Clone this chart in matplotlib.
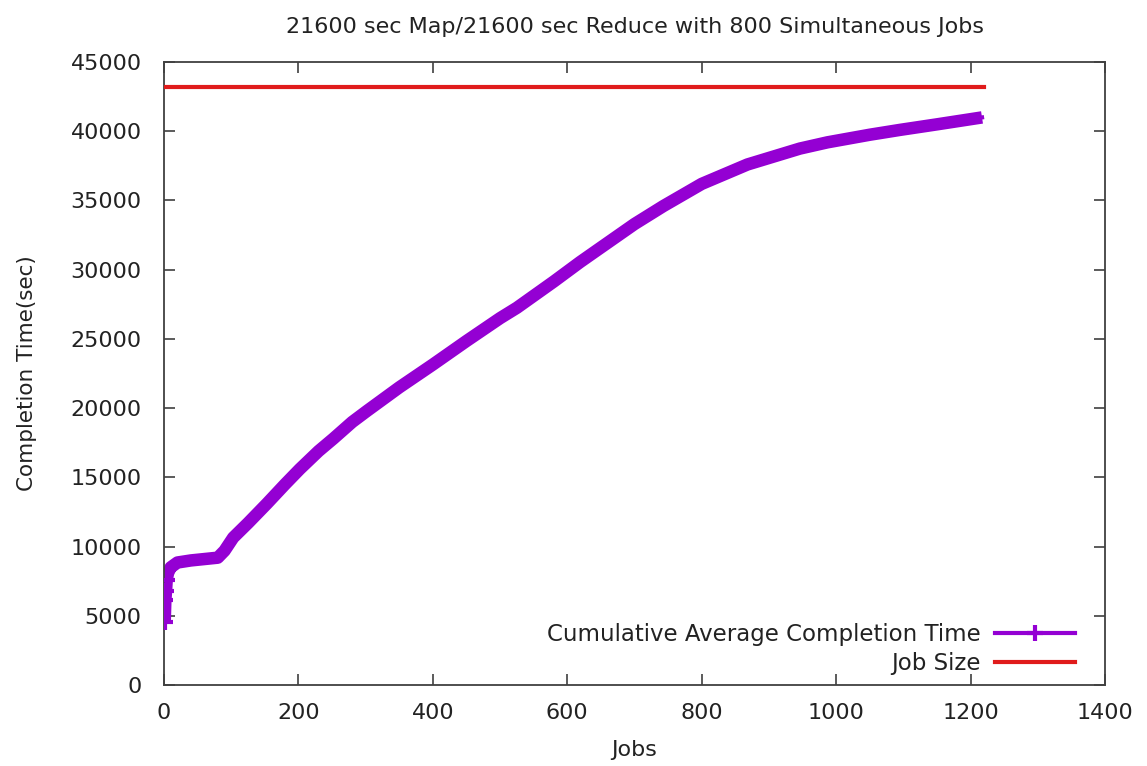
import matplotlib
matplotlib.use("Agg")
import matplotlib.pyplot as plt

# values
jobs = [1, 2, 3, 4, 6, 10, 20, 40, 60, 80, 90, 103, 125, 153, 180, 202, 230,
        252, 280, 302, 350, 400, 450, 500, 525, 580, 619, 644, 700, 743, 800,
        868, 946, 987, 1050, 1095, 1150, 1217]
avg_time = [4550, 6150, 6800, 7600, 8100, 8500, 8850, 9000, 9100, 9200, 9700,
            10650, 11700, 13100, 14500, 15600, 16900, 17800, 19000, 19800,
            21500, 23150, 24850, 26500, 27250, 29150, 30550, 31400, 33300,
            34600, 36200, 37600, 38750, 39200, 39750, 40100, 40500, 41000]
size_jobs = [1, 1220]
size_val = [43200, 43200]

title = "21600 sec Map/21600 sec Reduce with 800 Simultaneous Jobs"
purple = "#9400d3"
red = "#e01b1b"
grey = "#404040"
txt = "#222222"

fig = plt.figure(figsize=(11.47, 7.66), dpi=100)
ax = fig.add_axes([0.143, 0.1057, 0.8204, 0.8133])

# thick band for the dense points, then thin line + marks for the legend
ax.plot(jobs, avg_time, color=purple, lw=9, solid_capstyle="butt",
        solid_joinstyle="round", zorder=2)
ax.plot(jobs, avg_time, color=purple, lw=3, marker="+", ms=12, mew=3,
        markevery=[0, 1, 2, 3], label="Cumulative Average Completion Time",
        zorder=3)
ax.plot(size_jobs, size_val, color=red, lw=3, label="Job Size", zorder=3)

ax.set_xlim(0, 1400)
ax.set_ylim(0, 45000)
ax.set_xticks(range(0, 1401, 200))
ax.set_yticks(range(0, 45001, 5000))

ax.tick_params(direction="in", top=True, right=True, length=8, width=1.2,
               color=grey, labelsize=16, labelcolor=txt)
ax.tick_params(axis="y", pad=16)
ax.tick_params(axis="x", pad=13)
for s in ax.spines.values():
    s.set_color(grey)
    s.set_linewidth(1.3)

ax.set_title(title, fontsize=16, color=txt, pad=21)
ax.set_xlabel("Jobs", fontsize=16, color=txt, labelpad=12)
ax.set_ylabel("Completion Time(sec)", fontsize=15.5, color=txt, labelpad=24)

leg = ax.legend(loc="lower right", bbox_to_anchor=(0.968, 0.016),
                frameon=False, markerfirst=False, alignment="right",
                fontsize=16.5, handlelength=3.5, handletextpad=0.6,
                labelspacing=0.25, borderpad=0, borderaxespad=0)
for t in leg.get_texts():
    t.set_color(txt)

fig.savefig("out.png", dpi=100)
